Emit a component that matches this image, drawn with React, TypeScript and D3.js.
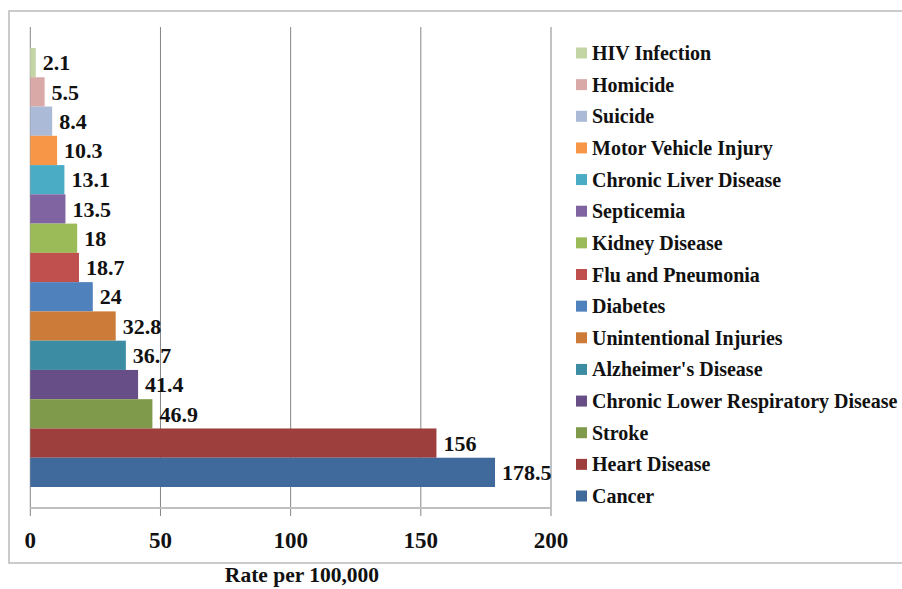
import * as d3 from "d3"

// top to bottom, as drawn
const causes = [
  "HIV Infection",
  "Homicide",
  "Suicide",
  "Motor Vehicle Injury",
  "Chronic Liver Disease",
  "Septicemia",
  "Kidney Disease",
  "Flu and Pneumonia",
  "Diabetes",
  "Unintentional Injuries",
  "Alzheimer's Disease",
  "Chronic Lower Respiratory Disease",
  "Stroke",
  "Heart Disease",
  "Cancer",
]
const rates = [2.1, 5.5, 8.4, 10.3, 13.1, 13.5, 18, 18.7, 24, 32.8, 36.7, 41.4, 46.9, 156, 178.5]
const colors = [
  "#c3d5a4", "#d9a9a8", "#aabad7", "#f79646", "#4bacc6", "#8064a2", "#9bbb59", "#c0504d",
  "#4f81bd", "#cc7b38", "#3c8da3", "#674e86", "#7e9a4a", "#9d403d", "#416a9c",
]
const xTicks = [0, 50, 100, 150, 200]

const font = "Liberation Serif, Times New Roman, serif"

export default function App() {
  const width = 902
  const height = 589

  const x = d3.scaleLinear().domain([0, 200]).range([30.3, 551])
  const y = d3.scaleBand().domain(causes).range([48, 487]).padding(0)
  const legendY = d3.scalePoint().domain(causes).range([53, 496])

  const gridTop = 27
  const axisY = 508
  const tickBottom = 516

  return (
    <svg width={width} height={height} style={{ position: "absolute", left: 0, top: 0, background: "#fff" }}>
      <rect x={9} y={11} width={905} height={552} fill="#fff" stroke="#bbbbbb" strokeWidth={1.5} />

      {/* gridlines */}
      {xTicks.map((t) => (
        <line key={t} x1={x(t)} x2={x(t)} y1={gridTop} y2={tickBottom} stroke="#868686" strokeWidth={1} />
      ))}

      {/* bars */}
      {causes.map((c, i) => (
        <rect key={c} x={x(0)} y={y(c)} width={x(rates[i]) - x(0)} height={y.bandwidth()} fill={colors[i]} />
      ))}

      {/* axis line */}
      <line x1={x(0)} x2={x(200)} y1={axisY} y2={axisY} stroke="#bfbfbf" strokeWidth={2} />

      {/* data labels */}
      {causes.map((c, i) => (
        <text key={c} x={x(rates[i]) + 7} y={(y(c) ?? 0) + y.bandwidth() / 2} dy="0.35em" fontSize={22} fontWeight="bold" fill="#111" style={{ fontFamily: font }}>
          {rates[i]}
        </text>
      ))}

      {/* tick labels */}
      {xTicks.map((t) => (
        <text key={t} x={x(t)} y={548} textAnchor="middle" fontSize={23} fontWeight="bold" fill="#111" style={{ fontFamily: font }}>
          {t}
        </text>
      ))}

      <text x={302} y={582} textAnchor="middle" fontSize={21.5} fontWeight="bold" fill="#111" style={{ fontFamily: font }}>
        Rate per 100,000
      </text>

      {/* legend */}
      {causes.map((c, i) => (
        <g key={c} transform={`translate(576,${legendY(c)})`}>
          <rect x={0} y={-5.5} width={11} height={11} fill={colors[i]} />
          <text x={16} dy="0.35em" fontSize={20} fontWeight="bold" fill="#111" style={{ fontFamily: font }}>
            {c}
          </text>
        </g>
      ))}
    </svg>
  )
}
